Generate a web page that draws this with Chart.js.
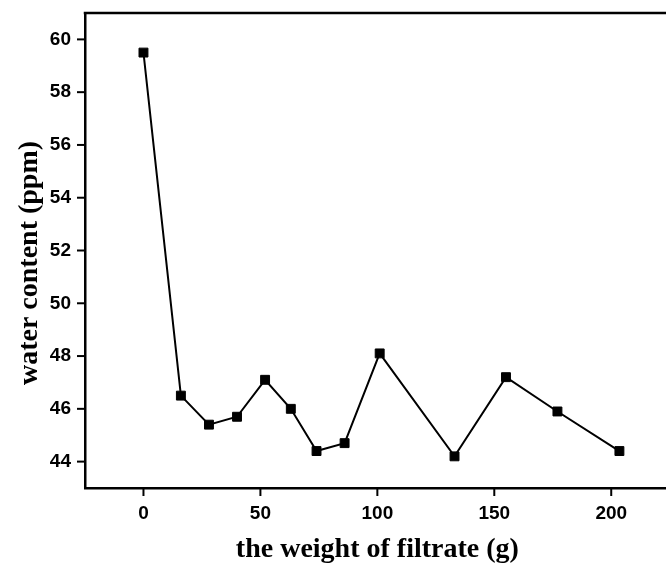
<!DOCTYPE html>
<html>
<head>
<meta charset="utf-8">
<script src="https://cdn.jsdelivr.net/npm/chart.js@4.4.1/dist/chart.umd.min.js"></script>
<style>
  html, body { margin: 0; padding: 0; background: #fff; overflow: hidden; }
  canvas { display: block; }
</style>
</head>
<body>
<canvas id="c" width="677" height="569"></canvas>
<script>
// Filtrate weight (g) and measured water content (ppm)
const filtrateWeight = [0, 16, 28, 40, 52, 63, 74, 86, 101, 133, 155, 177, 203.5];
const waterContent   = [59.5, 46.5, 45.4, 45.7, 47.1, 46.0, 44.4, 44.7, 48.1, 44.2, 47.2, 45.9, 44.4];

// Axis ranges and labelled tick values
const xRange = [-25, 225];
const yRange = [43, 61];
const xLabelled = [0, 50, 100, 150, 200];
const yLabelled = [44, 46, 48, 50, 52, 54, 56, 58, 60];
const yTitle = 'water content (ppm)';

const points = filtrateWeight.map((x, i) => ({ x, y: waterContent[i] }));

const INK = '#000';
const PLOT_LEFT = 85;
const PLOT_TOP = 13;
const PLOT_BOTTOM = 488;
const H = 569;

// Keep the plot box fixed: no extra padding for edge tick labels
function clearScalePadding(s) {
  s.paddingTop = 0; s.paddingBottom = 0; s.paddingLeft = 0; s.paddingRight = 0;
}

// Draws the frame, major/minor tick marks outside the axes and the rotated y title
const frameAndTicks = {
  id: 'frameAndTicks',
  afterDraw(chart) {
    const { ctx, chartArea: a, scales: { x, y } } = chart;
    ctx.save();
    ctx.strokeStyle = INK;
    ctx.lineWidth = 2.5;
    ctx.beginPath();
    ctx.moveTo(a.left - 1.25, a.top);
    ctx.lineTo(a.right, a.top);
    ctx.lineTo(a.right, a.bottom);
    ctx.stroke();

    ctx.lineWidth = 2;
    x.ticks.forEach(t => {
      const px = x.getPixelForValue(t.value);
      const len = xLabelled.includes(t.value) ? 8 : 5;
      ctx.beginPath();
      ctx.moveTo(px, a.bottom);
      ctx.lineTo(px, a.bottom + len);
      ctx.stroke();
    });
    y.ticks.forEach(t => {
      const py = y.getPixelForValue(t.value);
      const len = yLabelled.includes(t.value) ? 8 : 5;
      ctx.beginPath();
      ctx.moveTo(a.left, py);
      ctx.lineTo(a.left - len, py);
      ctx.stroke();
    });

    ctx.translate(30, 263);
    ctx.rotate(-Math.PI / 2);
    ctx.fillStyle = INK;
    ctx.font = 'bold 28px "Liberation Serif", "Times New Roman", serif';
    ctx.textAlign = 'center';
    ctx.textBaseline = 'middle';
    ctx.fillText(yTitle, 0, 0);
    ctx.restore();
  }
};

new Chart(document.getElementById('c'), {
  type: 'scatter',
  data: {
    datasets: [{
      data: points,
      showLine: true,
      borderColor: INK,
      borderWidth: 2,
      backgroundColor: INK,
      pointStyle: 'rect',
      pointRadius: 6.3,
      pointBorderWidth: 1,
      pointBorderColor: INK,
      pointBackgroundColor: INK
    }]
  },
  options: {
    responsive: false,
    animation: false,
    layout: { padding: { left: 0, top: PLOT_TOP, right: 3.4, bottom: 0 } },
    plugins: { legend: { display: false }, tooltip: { enabled: false } },
    scales: {
      x: {
        type: 'linear',
        min: xRange[0], max: xRange[1],
        afterFit(s) { s.height = H - PLOT_BOTTOM; clearScalePadding(s); },
        grid: { display: false, drawTicks: false },
        border: { display: true, color: INK, width: 2.5 },
        ticks: {
          stepSize: 25,
          autoSkip: false,
          maxRotation: 0,
          padding: 14,
          color: INK,
          font: { family: 'Liberation Sans, Arial, sans-serif', size: 19, weight: 'bold' },
          callback: v => xLabelled.includes(v) ? String(v) : null
        },
        title: {
          display: true,
          text: 'the weight of filtrate (g)',
          color: INK,
          padding: { top: 0, bottom: 2 },
          font: { family: 'Liberation Serif, Times New Roman, serif', size: 28, weight: 'bold' }
        }
      },
      y: {
        type: 'linear',
        min: yRange[0], max: yRange[1],
        afterFit(s) { s.width = PLOT_LEFT; clearScalePadding(s); },
        grid: { display: false, drawTicks: false },
        border: { display: true, color: INK, width: 2.5 },
        ticks: {
          stepSize: 1,
          autoSkip: false,
          padding: 14,
          color: INK,
          font: { family: 'Liberation Sans, Arial, sans-serif', size: 19, weight: 'bold' },
          callback: v => yLabelled.includes(v) ? String(v) : null
        }
      }
    }
  },
  plugins: [frameAndTicks]
});
</script>
</body>
</html>
